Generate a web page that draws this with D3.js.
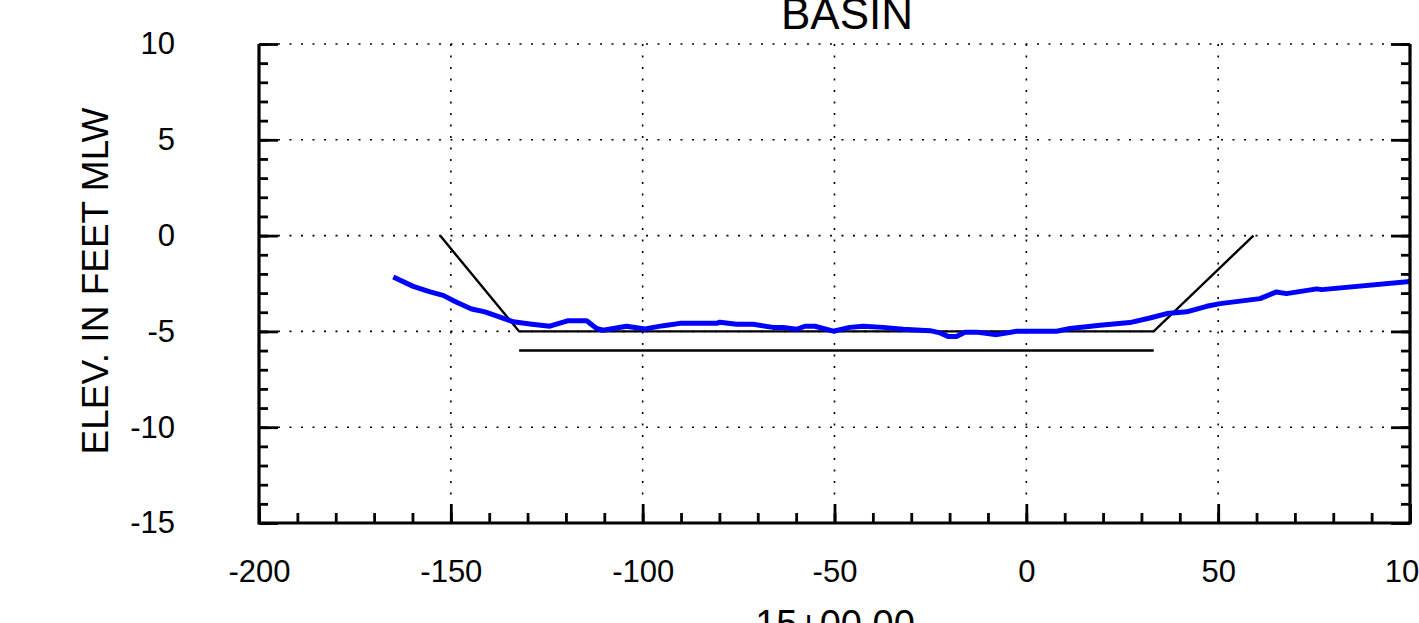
<!DOCTYPE html>
<html><head><meta charset="utf-8">
<script src="https://cdn.jsdelivr.net/npm/d3@7"></script>
<style>
body{margin:0;background:#fff;}
svg{display:block;font-family:"Liberation Sans",Arial,Helvetica,sans-serif;}
</style>
</head><body>
<svg id="chart" width="1419" height="623"></svg>
<script>
// ---- data ----
const surveyX = [-165.0,-159.8,-155.4,-152.0,-148.5,-144.6,-141.1,-137.2,-133.7,-129.4,-124.2,-119.4,-114.6,-112.0,-110.3,-104.2,-99.4,-94.6,-90.3,-80.7,-79.9,-75.5,-71.2,-66.0,-63.4,-59.9,-57.7,-55.1,-50.3,-46.0,-42.5,-37.3,-32.1,-25.1,-22.5,-20.4,-18.2,-16.0,-12.5,-7.7,-2.5,0,7.9,11.4,19.2,27.0,32.2,36.6,41.8,47.0,50.5,60.9,65.2,67.8,75.7,77.0,100];
const surveyY = [-2.16,-2.65,-2.94,-3.12,-3.48,-3.83,-3.98,-4.26,-4.50,-4.61,-4.73,-4.44,-4.44,-4.85,-4.94,-4.73,-4.87,-4.70,-4.58,-4.58,-4.52,-4.63,-4.63,-4.79,-4.79,-4.89,-4.73,-4.73,-4.99,-4.79,-4.73,-4.79,-4.89,-4.96,-5.08,-5.26,-5.26,-5.05,-5.05,-5.17,-4.99,-4.99,-4.99,-4.85,-4.68,-4.54,-4.30,-4.07,-3.98,-3.69,-3.55,-3.29,-2.94,-3.03,-2.78,-2.82,-2.39];
const templateX = [-152.8,-132.2,33.2,59.2];
const templateY = [0,-5,-5,0];
const overdepthX = [-132.2,33.2];
const overdepthY = [-6,-6];
const xTicks = [-200,-150,-100,-50,0,50,100];
const xMinorTicks = d3.range(-200,101,10);
const yTicks = [-15,-10,-5,0,5,10];
const yMinorTicks = d3.range(-15,11,1);
const chartTitle = "BASIN";
const xTitle = "15+00.00";
const yTitle = "ELEV. IN FEET MLW";

// ---- layout ----
const L = 259, R = 1410, T = 44, B = 523;
const svg = d3.select("#chart");
const x = d3.scaleLinear().domain([-200,100]).range([L,R]);
const y = d3.scaleLinear().domain([-15,10]).range([B,T]);
const fmt = d => String(d);

// grid (dotted)
const grid = svg.append("g").attr("stroke","#000").attr("stroke-width",1.6).attr("stroke-dasharray","2,9.5");
xTicks.filter(v=>v>-200 && v<100).forEach(v=>{
  grid.append("line").attr("x1",x(v)).attr("x2",x(v)).attr("y1",y(10)).attr("y2",B-19);
});
yTicks.filter(v=>v>-15).forEach(v=>{
  grid.append("line").attr("x1",L+19).attr("x2",R-19).attr("y1",y(v)).attr("y2",y(v));
});

// clip
svg.append("clipPath").attr("id","clip").append("rect").attr("x",L).attr("y",T-5).attr("width",R-L).attr("height",B-T+5);

const line = d3.line().x(d=>x(d[0])).y(d=>y(d[1]));
const plot = svg.append("g").attr("clip-path","url(#clip)");
plot.append("path").datum(templateX.map((v,i)=>[v,templateY[i]]))
  .attr("d",line).attr("fill","none").attr("stroke","#000").attr("stroke-width",2.4);
plot.append("path").datum(overdepthX.map((v,i)=>[v,overdepthY[i]]))
  .attr("d",line).attr("fill","none").attr("stroke","#000").attr("stroke-width",2.6);
plot.append("path").datum(surveyX.map((v,i)=>[v,surveyY[i]]))
  .attr("d",line).attr("fill","none").attr("stroke","#0000ff").attr("stroke-width",5).attr("stroke-linejoin","round");

// axes
function styleAxis(g){
  g.select(".domain").remove();
  g.selectAll(".tick line").attr("stroke","#000").attr("stroke-width",2.8);
}
const fs = 31;
svg.append("g").attr("transform",`translate(0,${B})`)
  .call(d3.axisBottom(x).tickValues(xMinorTicks).tickSize(-10).tickSizeOuter(0).tickFormat(""))
  .call(styleAxis);
svg.append("g").attr("transform",`translate(0,${B})`)
  .call(d3.axisBottom(x).tickValues(xTicks).tickSize(-19).tickSizeOuter(0).tickPadding(37).tickFormat(fmt))
  .call(styleAxis)
  .call(g=>g.selectAll("text").attr("font-size",fs).attr("fill","#000").attr("font-family","Liberation Sans, Arial, sans-serif"));
svg.append("g").attr("transform",`translate(${L},0)`)
  .call(d3.axisLeft(y).tickValues(yMinorTicks).tickSize(-9).tickSizeOuter(0).tickFormat(""))
  .call(styleAxis);
svg.append("g").attr("transform",`translate(${L},0)`)
  .call(d3.axisLeft(y).tickValues(yTicks).tickSize(-19).tickSizeOuter(0).tickPadding(84).tickFormat(fmt))
  .call(styleAxis)
  .call(g=>g.selectAll("text").attr("font-size",fs).attr("fill","#000").attr("font-family","Liberation Sans, Arial, sans-serif"));
svg.append("g").attr("transform",`translate(${R},0)`)
  .call(d3.axisRight(y).tickValues(yMinorTicks).tickSize(-9).tickSizeOuter(0).tickFormat(""))
  .call(styleAxis);
svg.append("g").attr("transform",`translate(${R},0)`)
  .call(d3.axisRight(y).tickValues(yTicks).tickSize(-19).tickSizeOuter(0).tickFormat(""))
  .call(styleAxis);

// axis frame lines (left, bottom, right)
svg.append("path")
  .attr("d",`M${x(-200)},${y(10)}V${y(-15)}H${x(100)}V${y(10)}`)
  .attr("fill","none").attr("stroke","#000").attr("stroke-width",3.2).attr("stroke-linejoin","miter");

// titles
svg.append("text").attr("x",847).attr("y",29).attr("text-anchor","middle")
  .attr("font-size",44).attr("fill","#000").text(chartTitle);
svg.append("text").attr("x",835).attr("y",637).attr("text-anchor","middle")
  .attr("font-size",38).attr("fill","#000").text(xTitle);
svg.append("text").attr("transform","translate(108,281) rotate(-90)").attr("text-anchor","middle")
  .attr("font-size",37).attr("fill","#000").text(yTitle);
</script>
</body></html>
